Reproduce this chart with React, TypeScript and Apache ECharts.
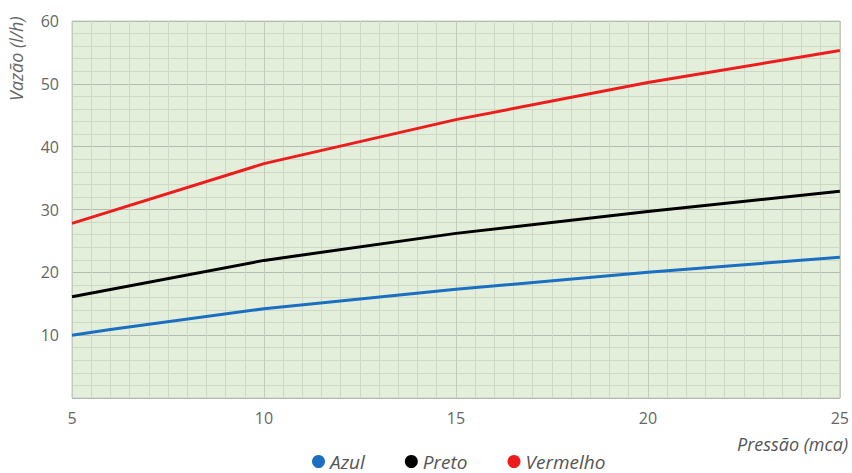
import React, { useEffect, useRef } from "react";
import * as echarts from "echarts";

const pressures = [5, 6, 10, 15, 20, 25];
const azul = [10.0, 10.9, 14.2, 17.3, 20.0, 22.4];
const pretoX = [5, 10, 15, 20, 25];
const preto = [16.1, 21.9, 26.2, 29.7, 32.9];
const vermelhoX = [5, 10, 15, 20, 25];
const vermelho = [27.8, 37.3, 44.3, 50.2, 55.3];
const seriesNames = ["Azul", "Preto", "Vermelho"];
const colors = ["#1a6fc0", "#000000", "#ee1c1c"];

const zip = (xs: number[], ys: number[]) => xs.map((x, i) => [x, ys[i]]);

export default function App() {
  const ref = useRef<HTMLDivElement>(null);
  useEffect(() => {
    const chart = echarts.init(ref.current!, null, { renderer: "svg" });
    const font = "'Open Sans', 'Noto Sans', sans-serif";
    chart.setOption({
      animation: false,
      textStyle: { fontFamily: font },
      grid: {
        left: 72,
        right: 12,
        top: 21,
        bottom: 75,
        show: true,
        backgroundColor: "#e4efdb",
        borderColor: "#c4c8c2",
        borderWidth: 1,
      },
      legend: {
        bottom: -3,
        left: 307,
        itemGap: 40,
        itemWidth: 13,
        itemHeight: 13,
        icon: "circle",
        textStyle: { fontSize: 19, fontStyle: "italic", color: "#555", fontFamily: font },
        data: seriesNames,
      },
      graphic: [
        {
          type: "text",
          x: 7,
          y: 101,
          rotation: Math.PI / 2,
          style: {
            text: "Vazão (l/h)",
            fontSize: 18,
            fontStyle: "italic",
            fill: "#666",
            fontFamily: font,
          },
        },
        {
          type: "text",
          right: 4,
          top: 435,
          style: {
            text: "Pressão (mca)",
            fontSize: 18,
            fontStyle: "italic",
            fill: "#555",
            fontFamily: font,
          },
        },
      ],
      xAxis: {
        type: "value",
        min: 5,
        max: 25,
        interval: 5,
        axisLine: { show: false },
        axisTick: { show: false },
        axisLabel: { fontSize: 16, color: "#666", margin: 12 },
        splitLine: { show: true, lineStyle: { color: "#c2cbbd", width: 1 } },
        minorTick: { show: false, splitNumber: 10 },
        minorSplitLine: { show: true, lineStyle: { color: "#cdd8c6", width: 1 } },
      },
      yAxis: {
        type: "value",
        min: 0,
        max: 60,
        interval: 10,
        axisLine: { show: false },
        axisTick: { show: false },
        axisLabel: {
          fontSize: 16,
          color: "#666",
          margin: 13,
          formatter: (v: number) => (v === 0 ? "" : String(v)),
        },
        splitLine: { show: true, lineStyle: { color: "#b4bcb1", width: 1 } },
        minorTick: { show: false, splitNumber: 5 },
        minorSplitLine: { show: true, lineStyle: { color: "#cdd8c6", width: 1 } },
      },
      series: [
        {
          name: seriesNames[0],
          type: "line",
          data: zip(pressures, azul),
          showSymbol: false,
          symbol: "circle",
          lineStyle: { color: colors[0], width: 3 },
          itemStyle: { color: colors[0] },
        },
        {
          name: seriesNames[1],
          type: "line",
          data: zip(pretoX, preto),
          showSymbol: false,
          symbol: "circle",
          lineStyle: { color: colors[1], width: 3 },
          itemStyle: { color: colors[1] },
        },
        {
          name: seriesNames[2],
          type: "line",
          data: zip(vermelhoX, vermelho),
          showSymbol: false,
          symbol: "circle",
          lineStyle: { color: colors[2], width: 3 },
          itemStyle: { color: colors[2] },
        },
      ],
    });
    return () => chart.dispose();
  }, []);
  return <div ref={ref} style={{ width: 852, height: 473, position: "absolute", left: 0, top: 0 }} />;
}
